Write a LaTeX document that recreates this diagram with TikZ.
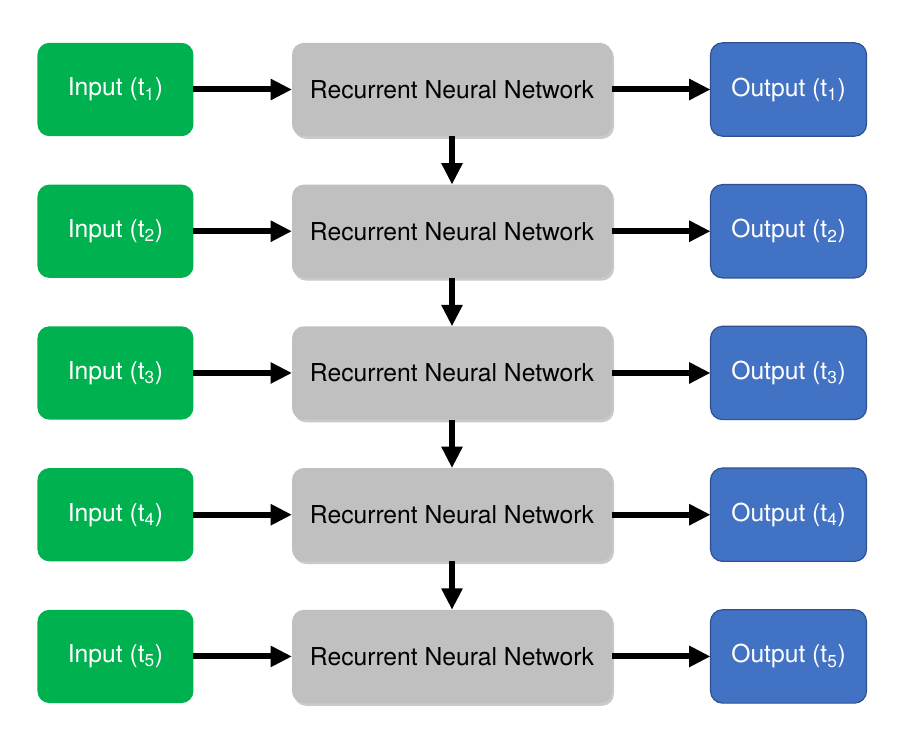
\documentclass[tikz,border=0pt]{standalone}
\usepackage{fontspec}
\setmainfont{TeX Gyre Heros}
\usetikzlibrary{arrows.meta,shadows}

\definecolor{ingreen}{RGB}{0,177,80}
\definecolor{rnngray}{RGB}{192,192,192}
\definecolor{outblue}{RGB}{66,114,196}
\definecolor{outedge}{RGB}{47,82,143}

\tikzset{
  inbox/.style={rectangle,rounded corners=9pt,fill=ingreen,text=white,
                outer sep=0pt,minimum width=117pt,minimum height=70pt},
  rnnbox/.style={rectangle,rounded corners=9pt,fill=rnngray,text=black,
                 outer sep=0pt,minimum width=240pt,minimum height=70pt,
                 drop shadow={shadow xshift=1.5pt,shadow yshift=-2pt,
                              opacity=0.35,fill=black!60}},
  outbox/.style={rectangle,rounded corners=9pt,fill=outblue,text=white,
                 draw=outedge,line width=0.9pt,outer sep=0pt,
                 minimum width=117pt,minimum height=70pt}
}

\begin{document}
\begin{tikzpicture}[x=0.75pt,y=-0.75pt,->,>={Triangle[length=16pt,width=15pt]},
                    line width=4.5pt,node distance=252.4pt,
                    every node/.style={font=\fontsize{18.5}{21}\selectfont}]
  \useasboundingbox (0,0) rectangle (910,735);

  \node[rnnbox]                             (R1) at (452,89.5) {Recurrent Neural Network};
  \node[inbox]  [left of=R1]                (I1) {Input (t\textsubscript{1})};
  \node[outbox] [right of=R1]               (O1) {Output (t\textsubscript{1})};

  \node[rnnbox] [below of=R1,node distance=106.3pt] (R2) {Recurrent Neural Network};
  \node[inbox]  [left of=R2]                (I2) {Input (t\textsubscript{2})};
  \node[outbox] [right of=R2]               (O2) {Output (t\textsubscript{2})};

  \node[rnnbox] [below of=R2,node distance=106.3pt] (R3) {Recurrent Neural Network};
  \node[inbox]  [left of=R3]                (I3) {Input (t\textsubscript{3})};
  \node[outbox] [right of=R3]               (O3) {Output (t\textsubscript{3})};

  \node[rnnbox] [below of=R3,node distance=106.3pt] (R4) {Recurrent Neural Network};
  \node[inbox]  [left of=R4]                (I4) {Input (t\textsubscript{4})};
  \node[outbox] [right of=R4]               (O4) {Output (t\textsubscript{4})};

  \node[rnnbox] [below of=R4,node distance=106.3pt] (R5) {Recurrent Neural Network};
  \node[inbox]  [left of=R5]                (I5) {Input (t\textsubscript{5})};
  \node[outbox] [right of=R5]               (O5) {Output (t\textsubscript{5})};

  \path (I1) edge (R1)
        (R1) edge (O1)
             edge (R2)
        (I2) edge (R2)
        (R2) edge (O2)
             edge (R3)
        (I3) edge (R3)
        (R3) edge (O3)
             edge (R4)
        (I4) edge (R4)
        (R4) edge (O4)
             edge (R5)
        (I5) edge (R5)
        (R5) edge (O5);
\end{tikzpicture}
\end{document}
